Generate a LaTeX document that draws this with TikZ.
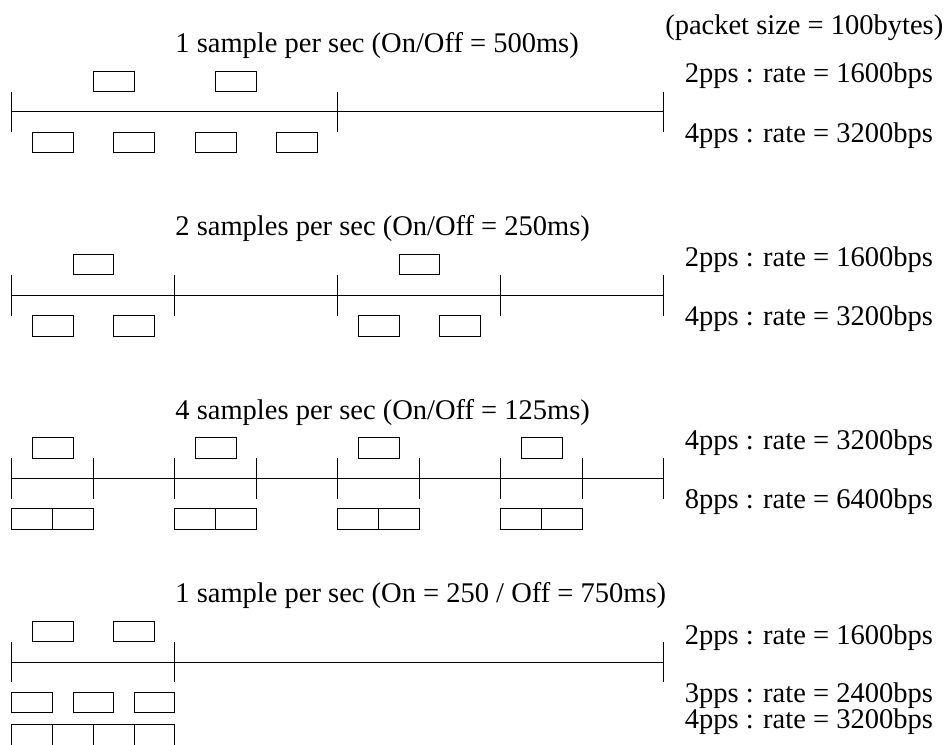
\documentclass[tikz,border=0pt]{standalone}
\usepackage{fontspec}
\setmainfont{Liberation Serif}
\usetikzlibrary{positioning}

\tikzset{
  title/.style={anchor=base west, inner sep=0pt},
  rate/.style={anchor=base west, inner sep=0pt},
  every path/.style={line width=0.35pt},
}
% packet boxes: above the line, below it (close / lower), second row below
\newcommand{\pktup}[2]{\draw (#1,#2-0.5) rectangle ++(0.5,0.25);}
\newcommand{\pktdn}[2]{\draw (#1,#2+0.25) rectangle ++(0.5,0.25);}
\newcommand{\pktlo}[2]{\draw (#1,#2+0.37) rectangle ++(0.5,0.25);}
\newcommand{\pktdd}[2]{\draw (#1,#2+0.77) rectangle ++(0.5,0.25);}
\newcommand{\tick}[2]{\draw (#1,#2-0.25) -- (#1,#2+0.25);}

\begin{document}
\begin{tikzpicture}[x=28.6pt,y=-28.6pt]
    \useasboundingbox (-0.147,-1.374) rectangle (11.485,7.755);

    % 1 sample per sec, on/off 500ms
    \node[title] (t1) at (2,-0.73) {1 sample per sec (On/Off = 500ms)};
    \node[rate] (size) at (8.01,-0.945) {(packet size = 100bytes)};
    \node[rate] (r1a) at (8.25,-0.36) {2pps : rate = 1600bps};
    \node[rate] (r1b) at (8.25,0.37) {4pps : rate = 3200bps};
    \draw (0,0) -- (8,0);
    \foreach \x in {0,4,8} {\tick{\x}{0}}
    \foreach \x in {1,2.5} {\pktup{\x}{0}}
    \foreach \x in {0.25,1.25,2.25,3.25} {\pktdn{\x}{0}}

    % 2 samples per sec, on/off 250ms
    \node[title] (t2) at (2,1.52) {2 samples per sec (On/Off = 250ms)};
    \node[rate] (r2a) at (8.25,1.89) {2pps : rate = 1600bps};
    \node[rate] (r2b) at (8.25,2.62) {4pps : rate = 3200bps};
    \draw (0,2.25) -- (8,2.25);
    \foreach \x in {0,2,4,6,8} {\tick{\x}{2.25}}
    \foreach \x in {0.75,4.75} {\pktup{\x}{2.25}}
    \foreach \x in {0.25,1.25,4.25,5.25} {\pktdn{\x}{2.25}}

    % 4 samples per sec, on/off 125ms
    \node[title] (t3) at (2,3.77) {4 samples per sec (On/Off = 125ms)};
    \node[rate] (r3a) at (8.25,4.14) {4pps : rate = 3200bps};
    \node[rate] (r3b) at (8.25,4.87) {8pps : rate = 6400bps};
    \draw (0,4.5) -- (8,4.5);
    \foreach \x in {0,...,8} {\tick{\x}{4.5}}
    \foreach \x in {0.25,2.25,4.25,6.25} {\pktup{\x}{4.5}}
    \foreach \x in {0,0.5,2,2.5,4,4.5,6,6.5} {\pktlo{\x}{4.5}}

    % 1 sample per sec, on 250 / off 750ms
    \node[title] (t4) at (2,6.02) {1 sample per sec (On = 250 / Off = 750ms)};
    \node[rate] (r4a) at (8.25,6.53) {2pps : rate = 1600bps};
    \node[rate] (r4b) at (8.25,7.25) {3pps : rate = 2400bps};
    \node[rate] (r4c) at (8.25,7.57) {4pps : rate = 3200bps};
    \draw (0,6.75) -- (8,6.75);
    \foreach \x in {0,2,8} {\tick{\x}{6.75}}
    \foreach \x in {0.25,1.25} {\pktup{\x}{6.75}}
    \foreach \x in {0,0.75,1.5} {\pktlo{\x}{6.75}}
    \foreach \x in {0,0.5,1,1.5} {\pktdd{\x}{6.75}}
  \end{tikzpicture}
\end{document}
